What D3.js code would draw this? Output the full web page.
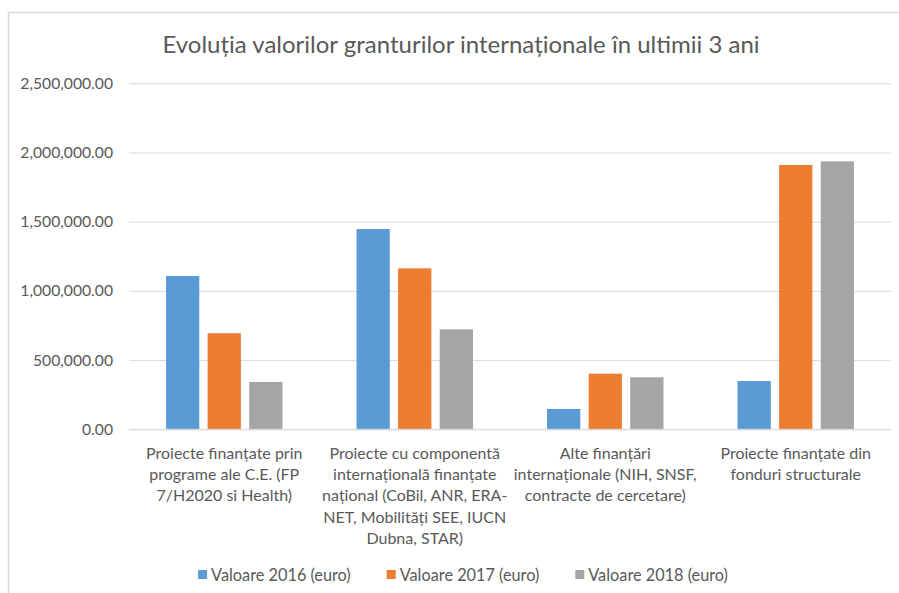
<!DOCTYPE html>
<html>
<head>
<meta charset="utf-8">
<script src="https://cdn.jsdelivr.net/npm/d3@7"></script>
<style>
  body { margin: 0; background: #fff; }
  svg { display: block; font-family: Lato, "Open Sans", sans-serif; }
</style>
</head>
<body>
<svg width="899" height="593"></svg>
<script>
  // Data
  const categories = [
    ["Proiecte finanțate prin", "programe ale C.E. (FP", "7/H2020 si Health)"],
    ["Proiecte cu componentă", "internațională finanțate", "național (CoBil, ANR, ERA-", "NET, Mobilități SEE, IUCN", "Dubna, STAR)"],
    ["Alte finanțări", "internaționale (NIH, SNSF,", "contracte de cercetare)"],
    ["Proiecte finanțate din", "fonduri structurale"]
  ];
  const seriesNames = ["Valoare 2016 (euro)", "Valoare 2017 (euro)", "Valoare 2018 (euro)"];
  const values2016 = [1108000, 1447000, 147000, 349000];
  const values2017 = [694000, 1163000, 402000, 1910000];
  const values2018 = [342000, 722000, 376000, 1936000];
  const yTicks = [0, 500000, 1000000, 1500000, 2000000, 2500000];
  const colors = ["#5B9BD5", "#ED7D31", "#A5A5A5"];

  const series = [values2016, values2017, values2018];
  const catKeys = categories.map((c, i) => i);

  const svg = d3.select("svg");
  const textColor = "#595959";

  // chart border
  svg.append("rect")
      .attr("x", 8.5).attr("y", 12.5)
      .attr("width", 920).attr("height", 620)
      .attr("fill", "#fff")
      .attr("stroke", "#D9D9D9").attr("stroke-width", 1.5);

  // title
  svg.append("text")
      .attr("x", 461).attr("y", 53)
      .attr("text-anchor", "middle")
      .attr("fill", textColor)
      .style("font-size", "24px")
      .text("Evoluția valorilor granturilor internaționale în ultimii 3 ani");

  const margin = {left: 129, right: 891, top: 83.3, bottom: 429.3};

  const y = d3.scaleLinear()
      .domain([0, 2500000])
      .range([margin.bottom, margin.top]);

  const x0 = d3.scaleBand()
      .domain(catKeys)
      .range([margin.left, margin.right]);

  const x1 = d3.scaleBand()
      .domain(d3.range(series.length))
      .range([0, x0.bandwidth()])
      .paddingInner(0.2)
      .paddingOuter(0.89);

  // gridlines + y labels
  const yAxis = svg.append("g")
      .attr("transform", `translate(${margin.left},0)`)
      .call(d3.axisLeft(y).tickValues(yTicks).tickFormat(d3.format(",.2f"))
        .tickSize(-(margin.right - margin.left)).tickPadding(16));
  yAxis.select(".domain").remove();
  yAxis.selectAll(".tick line").attr("stroke", "#D9D9D9").attr("stroke-width", 1);
  yAxis.selectAll(".tick text")
      .attr("fill", textColor)
      .style("font-size", "15.7px")
      .style("font-family", "Lato, sans-serif");

  // bars
  const groups = svg.append("g")
    .selectAll("g")
    .data(catKeys)
    .join("g")
      .attr("transform", d => `translate(${x0(d)},0)`);

  groups.selectAll("rect")
    .data(ci => series.map((s, si) => ({si, v: s[ci]})))
    .join("rect")
      .attr("x", d => x1(d.si))
      .attr("width", x1.bandwidth())
      .attr("y", d => y(d.v))
      .attr("height", d => y(0) - y(d.v))
      .attr("fill", d => colors[d.si]);

  // x baseline
  svg.append("line")
      .attr("x1", margin.left).attr("x2", margin.right)
      .attr("y1", y(0)).attr("y2", y(0))
      .attr("stroke", "#D9D9D9");

  // category labels
  svg.append("g")
    .selectAll("text")
    .data(catKeys)
    .join("text")
      .attr("text-anchor", "middle")
      .attr("fill", textColor)
      .style("font-size", "16px")
      .attr("transform", d => `translate(${x0(d) + x0.bandwidth() / 2},459)`)
    .selectAll("tspan")
    .data(d => categories[d])
    .join("tspan")
      .attr("x", 0)
      .attr("y", (d, i) => i * 21.2)
      .text(d => d);

  // legend
  const legend = svg.append("g").attr("transform", "translate(0,575)");
  const items = legend.selectAll("g")
    .data(seriesNames)
    .join("g");
  items.append("rect")
      .attr("width", 9).attr("height", 9)
      .attr("y", -5)
      .attr("fill", (d, i) => colors[i]);
  items.append("text")
      .attr("x", 13)
      .attr("dy", "0.35em")
      .attr("fill", textColor)
      .style("font-size", "16.3px")
      .text(d => d);

  let widths = [];
  items.each(function() { widths.push(this.getBBox().width); });
  const gap = 36;
  const total = d3.sum(widths) + gap * (widths.length - 1);
  let cx = 463 - total / 2;
  items.attr("transform", (d, i) => {
    const t = `translate(${cx},0)`;
    cx += widths[i] + gap;
    return t;
  });
</script>
</body>
</html>
